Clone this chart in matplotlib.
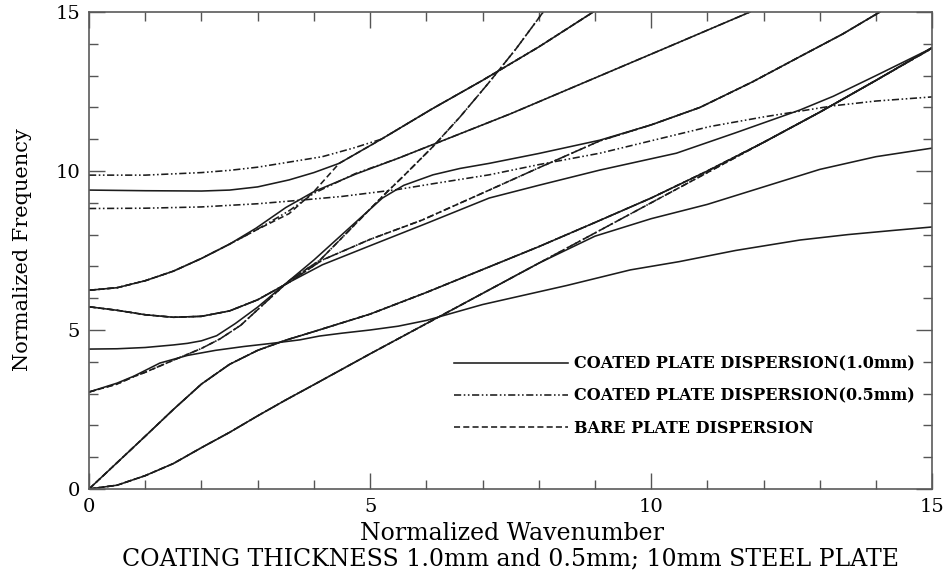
import matplotlib.pyplot as plt
from matplotlib.ticker import MultipleLocator

plt.rcParams['font.family'] = ['DejaVu Serif']

# common grid for the two fundamental modes
fund_x = [0, 0.5, 1, 1.5, 2, 2.5, 3, 3.5, 4, 5, 6, 7, 8, 9, 10, 11, 12, 13, 14, 15]
A0_y = [0, 0.12, 0.42, 0.8, 1.3, 1.78, 2.3, 2.8, 3.28, 4.25, 5.2, 6.15, 7.1, 8.05, 9.0, 9.95, 10.9, 11.85, 12.85, 13.86]
S0_y = [0, 0.83, 1.66, 2.5, 3.3, 3.92, 4.36, 4.68, 4.95, 5.5, 6.18, 6.9, 7.62, 8.38, 9.15, 10.0, 10.9, 11.85, 12.85, 13.88]

# --- bare steel plate (dashed) ---
bare_m1_x = [0, 0.5, 0.79, 1, 1.5, 2, 2.33, 2.7, 3.16, 3.56, 4.11, 4.5, 5.22, 5.6, 6.12, 6.6, 7.1, 7.6, 8.08]
bare_m1_y = [3.05, 3.3, 3.53, 3.67, 4.05, 4.42, 4.72, 5.15, 5.9, 6.55, 7.2, 7.9, 9.2, 9.85, 10.77, 11.7, 12.75, 13.85, 15]
bare_m2_x = [0, 0.5, 1, 1.5, 2, 2.5, 3, 3.56, 4.15, 5, 5.93, 7.12, 8, 9.09, 10, 10.87, 11.8, 12.65, 13.4, 14.07]
bare_m2_y = [5.73, 5.62, 5.48, 5.4, 5.43, 5.6, 5.95, 6.5, 7.2, 7.85, 8.46, 9.4, 10.1, 10.95, 11.45, 12.0, 12.8, 13.6, 14.3, 15]
bare_m3_x = [0, 0.5, 1, 1.5, 2, 2.5, 2.97, 3.56, 4, 4.45, 5.2, 6.1, 7, 8, 8.97]
bare_m3_y = [6.25, 6.33, 6.55, 6.85, 7.25, 7.7, 8.14, 8.66, 9.35, 10.24, 11.0, 11.95, 12.85, 13.9, 15]

# --- coated 1.0 mm (solid) ---
c10_A0_x = [0, 0.5, 1, 1.5, 2, 2.5, 3, 3.5, 4, 5, 6, 7, 8, 9, 10, 11, 12, 13, 14, 15]
c10_A0_y = [0, 0.12, 0.42, 0.8, 1.3, 1.78, 2.3, 2.8, 3.28, 4.25, 5.2, 6.15, 7.1, 7.95, 8.5, 8.95, 9.5, 10.05, 10.45, 10.72]
c10_m1_x = [0, 0.5, 0.8, 1.26, 1.75, 2.25, 2.75, 3.25, 3.75, 4.1, 4.5, 5, 5.5, 6, 6.5, 7, 7.9, 8.5, 9.63,
            10.5, 11.5, 12.65, 13.5, 14.3, 15]
c10_m1_y = [3.05, 3.33, 3.55, 3.96, 4.2, 4.36, 4.48, 4.58, 4.69, 4.81, 4.9, 5.0, 5.12, 5.3, 5.55, 5.8, 6.16, 6.4, 6.89,
            7.15, 7.5, 7.83, 8.0, 8.13, 8.24]
c10_m2_x = [0, 0.5, 1, 1.5, 1.75, 2, 2.27, 2.6, 3, 3.56, 4, 4.5, 5.22, 5.6, 6.12, 6.6, 7.12, 8, 9.09, 10,
            10.87, 11.8, 12.65, 13.4, 14.07]
c10_m2_y = [4.4, 4.41, 4.45, 4.53, 4.58, 4.66, 4.82, 5.2, 5.72, 6.55, 7.2, 8.0, 9.15, 9.55, 9.88, 10.08, 10.24, 10.55, 10.97, 11.45,
            12.0, 12.8, 13.6, 14.3, 15]
c10_m3_x = [0, 0.5, 1, 1.5, 2, 2.5, 3, 3.56, 4.15, 5, 6, 7.12, 8, 9.09, 10.45, 11.5, 12.65, 13.24, 14, 15]
c10_m3_y = [5.73, 5.62, 5.48, 5.4, 5.43, 5.6, 5.95, 6.5, 7.05, 7.65, 8.35, 9.15, 9.55, 10.03, 10.56, 11.2, 11.92, 12.35, 13.0, 13.87]
c10_m4_x = [0, 0.5, 1, 1.5, 2, 2.5, 2.97, 3.5, 4, 4.74, 5.5, 6.5, 7.5, 8.5, 9.5, 10.5, 11.76]
c10_m4_y = [6.25, 6.33, 6.55, 6.85, 7.25, 7.7, 8.2, 8.85, 9.35, 9.9, 10.4, 11.1, 11.8, 12.55, 13.3, 14.05, 15]
c10_m5_x = [0, 1, 2, 2.5, 3, 3.56, 4, 4.45, 5.2, 6.1, 7, 8, 8.97]
c10_m5_y = [9.4, 9.38, 9.37, 9.4, 9.5, 9.72, 9.95, 10.24, 11.0, 11.95, 12.85, 13.9, 15]

# --- coated 0.5 mm (dash-dot-dot) ---
c05_m3_x = [0, 0.5, 1, 1.5, 2, 2.5, 2.97, 3.56, 4, 4.74, 5.5, 6.5, 7.5, 8.5, 9.5, 10.5, 11.76]
c05_m3_y = [6.25, 6.33, 6.55, 6.85, 7.25, 7.7, 8.14, 8.75, 9.3, 9.92, 10.4, 11.1, 11.8, 12.55, 13.3, 14.05, 15]
c05_m4_x = [0, 1, 2, 3, 3.75, 4.5, 5.5, 6.12, 7.12, 8, 9.09, 10, 11.05, 12, 13.24, 14, 15]
c05_m4_y = [8.82, 8.83, 8.87, 8.97, 9.08, 9.2, 9.42, 9.6, 9.88, 10.2, 10.56, 10.95, 11.4, 11.7, 12.05, 12.2, 12.33]
c05_m5_x = [0, 1, 2, 2.5, 3, 3.56, 4.15, 4.7, 5.2, 6.1, 7, 8, 8.97]
c05_m5_y = [9.87, 9.87, 9.95, 10.02, 10.12, 10.28, 10.45, 10.72, 11.0, 11.95, 12.85, 13.9, 15]

fig = plt.figure(figsize=(9.49, 5.71), dpi=100)
ax = fig.add_axes([0.0938, 0.1436, 0.8885, 0.8354])

ink = '#1c1c1c'
dashed = (0, (3.8, 2.0))
dashdot = (0, (4.5, 1.6, 1.0, 1.6, 1.0, 1.6))
lw = 1.15

# bare plate
ax.plot(fund_x, A0_y, color=ink, lw=lw, linestyle=dashed, label='BARE PLATE DISPERSION')
ax.plot(fund_x, S0_y, color=ink, lw=lw, linestyle=dashed)
ax.plot(bare_m1_x, bare_m1_y, color=ink, lw=lw, linestyle=dashed)
ax.plot(bare_m2_x, bare_m2_y, color=ink, lw=lw, linestyle=dashed)
ax.plot(bare_m3_x, bare_m3_y, color=ink, lw=lw, linestyle=dashed)

# coated 1.0 mm
ax.plot(c10_A0_x, c10_A0_y, color=ink, lw=lw, label='COATED PLATE DISPERSION(1.0mm)')
ax.plot(fund_x, S0_y, color=ink, lw=lw)
ax.plot(c10_m1_x, c10_m1_y, color=ink, lw=lw)
ax.plot(c10_m2_x, c10_m2_y, color=ink, lw=lw)
ax.plot(c10_m3_x, c10_m3_y, color=ink, lw=lw)
ax.plot(c10_m4_x, c10_m4_y, color=ink, lw=lw)
ax.plot(c10_m5_x, c10_m5_y, color=ink, lw=lw)

# coated 0.5 mm
ax.plot(fund_x, A0_y, color=ink, lw=lw, linestyle=dashdot, label='COATED PLATE DISPERSION(0.5mm)')
ax.plot(fund_x, S0_y, color=ink, lw=lw, linestyle=dashdot)
ax.plot(bare_m1_x, bare_m1_y, color=ink, lw=lw, linestyle=dashdot)
ax.plot(bare_m2_x, bare_m2_y, color=ink, lw=lw, linestyle=dashdot)
ax.plot(c05_m3_x, c05_m3_y, color=ink, lw=lw, linestyle=dashdot)
ax.plot(c05_m4_x, c05_m4_y, color=ink, lw=lw, linestyle=dashdot)
ax.plot(c05_m5_x, c05_m5_y, color=ink, lw=lw, linestyle=dashdot)

ax.set_xlim(0, 15)
ax.set_ylim(0, 15)
ax.xaxis.set_major_locator(MultipleLocator(5))
ax.yaxis.set_major_locator(MultipleLocator(5))
ax.xaxis.set_minor_locator(MultipleLocator(1))
ax.yaxis.set_minor_locator(MultipleLocator(1))
ax.tick_params(which='both', direction='in', top=True, right=True, color='#555555', labelsize=14, pad=6.5)
ax.tick_params(which='major', length=11.5, width=1)
ax.tick_params(which='minor', length=6.5, width=1)
for s in ax.spines.values():
    s.set_color('#5a5a5a')
    s.set_linewidth(1.2)

fig.text(23 / 949, 1 - 250 / 571, 'Normalized Frequency', rotation=90, ha='center', va='center', fontsize=15)
fig.text(512 / 949, 1 - 534 / 571, 'Normalized Wavenumber', ha='center', va='center', fontsize=17)
fig.text(511 / 949, 1 - 565 / 571, 'COATING THICKNESS 1.0mm and 0.5mm; 10mm STEEL PLATE',
         ha='center', va='baseline', fontsize=17)

handles, labels = ax.get_legend_handles_labels()
order = [1, 2, 0]
ax.legend([handles[i] for i in order], [labels[i] for i in order],
          loc='upper left', bbox_to_anchor=(0.416, 0.31), frameon=False,
          handlelength=7.1, handletextpad=0.38, labelspacing=0.95,
          prop={'family': 'DejaVu Serif', 'weight': 'bold', 'size': 11.5})

fig.savefig('out.png', dpi=100)
